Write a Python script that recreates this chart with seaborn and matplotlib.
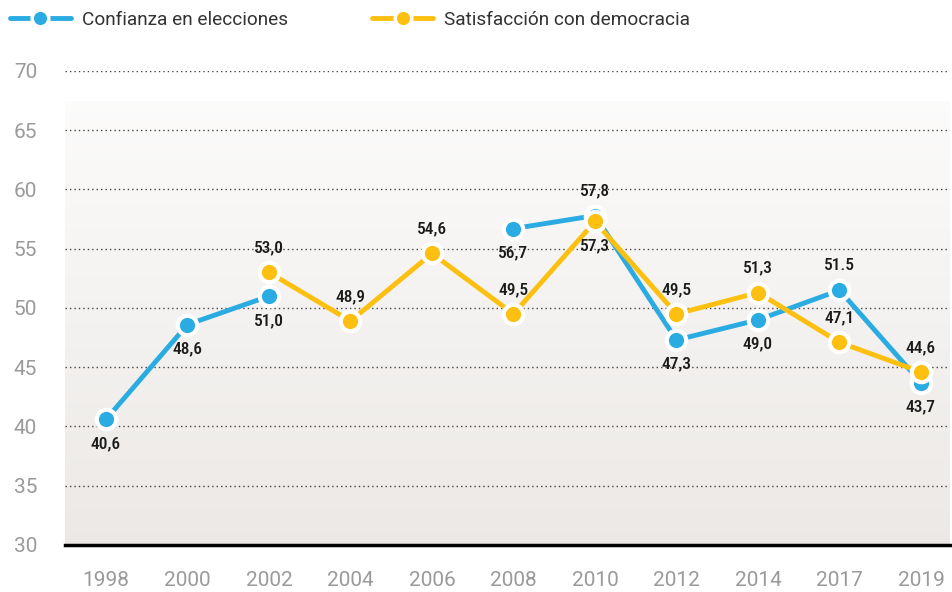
import numpy as np
import pandas as pd
import matplotlib
matplotlib.use("Agg")
import matplotlib.pyplot as plt
from matplotlib.lines import Line2D
from matplotlib import font_manager as fm
import seaborn as sns

years = ["1998", "2000", "2002", "2004", "2006", "2008", "2010", "2012", "2014", "2017", "2019"]
confianza = [40.6, 48.6, 51.0, np.nan, np.nan, 56.7, 57.8, 47.3, 49.0, 51.5, 43.7]
satisfaccion = [np.nan, np.nan, 53.0, 48.9, 54.6, 49.5, 57.3, 49.5, 51.3, 47.1, 44.6]
conf_labels = ["40,6", "48,6", "51,0", "", "", "56,7", "57,8", "47,3", "49,0", "51.5", "43,7"]
sat_labels = ["", "", "53,0", "48,9", "54,6", "49,5", "57,3", "49,5", "51,3", "47,1", "44,6"]
conf_side = [-1, -1, -1, 0, 0, -1, 1, -1, -1, 1, -1]
sat_side = [0, 0, 1, 1, 1, 1, -1, 1, 1, 1, 1]
series_names = ["Confianza en elecciones", "Satisfacción con democracia"]

BLUE = "#2aace2"
YELLOW = "#fdc010"

sns.set_theme(style="white")
plt.rcParams["font.family"] = ["Roboto", "DejaVu Sans"]

cond_path = None
cands = []
for f in fm.fontManager.ttflist:
    n = (f.name + " " + str(f.fname)).lower()
    if ("condensed" in n or "narrow" in n or f.stretch in ("condensed", "semi-condensed", "extra-condensed")):
        score = 0
        if "roboto" in n: score += 3
        if "bold" in n and "extra" not in n and "semi" not in n: score += 2
        if "medium" in n: score += 2
        if "italic" in n or "oblique" in n: score -= 10
        cands.append((score, f.fname))
if cands:
    cands.sort(reverse=True)
    cond_path = cands[0][1]

def segments(vals):
    rows = []
    seg = 0
    prev_nan = True
    for i, v in enumerate(vals):
        if np.isnan(v):
            prev_nan = True
            continue
        if prev_nan:
            seg += 1
        prev_nan = False
        rows.append({"pos": i, "value": v, "seg": seg})
    return pd.DataFrame(rows)

fig = plt.figure(figsize=(9.53, 5.92), dpi=100)
ax = fig.add_axes([65 / 953, 1 - 545 / 592, (950 - 65) / 953, (545 - 71) / 592])

xmin, xmax = -0.503, 10.356
ax.set_xlim(xmin, xmax)
ax.set_ylim(30, 70)

grad = np.linspace(0, 1, 256).reshape(-1, 1)
top = np.array([0.988, 0.986, 0.984])
bot = np.array([0.925, 0.912, 0.900])
img = top[None, None, :] * (1 - grad[:, :, None]) + bot[None, None, :] * grad[:, :, None]
ax.imshow(img, extent=[xmin, xmax, 30, 67.4], aspect="auto", origin="upper", zorder=0)

for yv in range(35, 71, 5):
    ax.axhline(yv, color="#444444", lw=1.0, ls=(0, (1, 2.2)), zorder=1)

df_c = segments(confianza)
df_s = segments(satisfaccion)

sns.lineplot(data=df_c, x="pos", y="value", units="seg", estimator=None, color=BLUE,
             lw=3.5, marker="o", markersize=14, markeredgecolor="white", markeredgewidth=3,
             ax=ax, zorder=3, legend=False)
sns.lineplot(data=df_s, x="pos", y="value", units="seg", estimator=None, color=YELLOW,
             lw=3.5, marker="o", markersize=14, markeredgecolor="white", markeredgewidth=3,
             ax=ax, zorder=4, legend=False)

if cond_path:
    lab_fp = fm.FontProperties(fname=cond_path, size=12.5)
else:
    lab_fp = fm.FontProperties(family="DejaVu Sans", weight="bold", size=11)
for vals, labs, sides in [(confianza, conf_labels, conf_side), (satisfaccion, sat_labels, sat_side)]:
    for i, (v, l, s) in enumerate(zip(vals, labs, sides)):
        if np.isnan(v) or s == 0:
            continue
        ax.annotate(l, (i, v), xytext=(0, 17.5 * s), textcoords="offset points",
                    fontproperties=lab_fp, color="#1a1a1a", ha="center", va="center", zorder=6)

ax.set_xticks(range(len(years)))
ax.set_xticklabels(years)
ax.set_yticks(range(30, 71, 5))
ax.tick_params(axis="x", length=0, pad=19, labelsize=15, labelcolor="#9a9a9a")
ax.tick_params(axis="y", length=0, pad=20, labelsize=15, labelcolor="#9a9a9a")
ax.set_xlabel("")
ax.set_ylabel("")
for sp in ["top", "right", "left"]:
    ax.spines[sp].set_visible(False)
ax.spines["bottom"].set_color("black")
ax.spines["bottom"].set_linewidth(2.5)
ax.spines["bottom"].set_zorder(5)

handles = [Line2D([0], [0], color=c, lw=3.5, marker="o", markersize=12,
                  markeredgecolor="white", markeredgewidth=2.5) for c in [BLUE, YELLOW]]
fig.legend(handles, series_names, loc="center left", bbox_to_anchor=(8 / 953, 1 - 20 / 592),
           ncol=2, frameon=False, fontsize=13.7, handlelength=3.2, handletextpad=0.6,
           columnspacing=4.4, labelcolor="#333333", borderaxespad=0, borderpad=0.1)

fig.savefig("out.png", dpi=100)
